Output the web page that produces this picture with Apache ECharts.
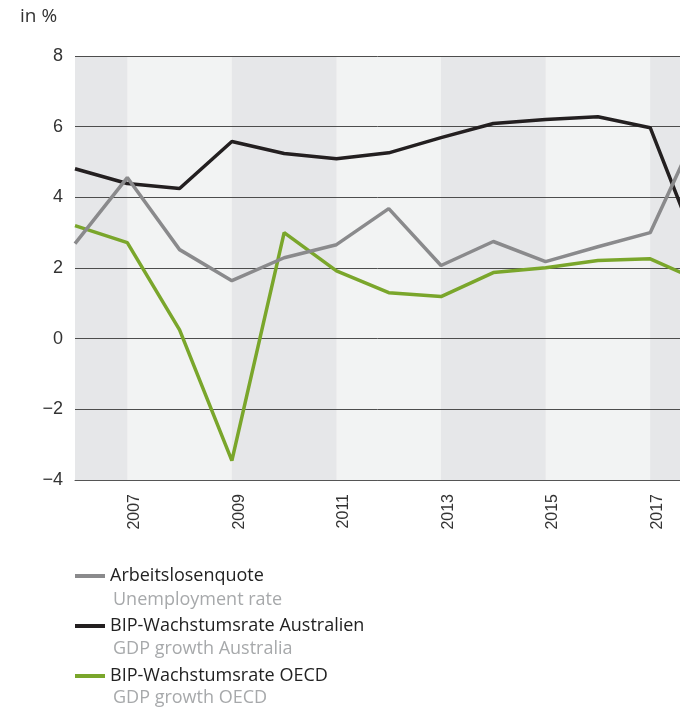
<!DOCTYPE html>
<html>
<head>
<meta charset="utf-8">
<script src="https://cdn.jsdelivr.net/npm/echarts@6/dist/echarts.min.js"></script>
<style>
  html, body { margin: 0; padding: 0; background: #fff; }
  #chart { width: 680px; height: 713px; }
</style>
</head>
<body>
<div id="chart"></div>
<script>
const years = [2006, 2007, 2008, 2009, 2010, 2011, 2012, 2013, 2014, 2015, 2016, 2017, 2018];
const unemployment = [2.69, 4.56, 2.52, 1.64, 2.29, 2.66, 3.68, 2.07, 2.75, 2.18, 2.6, 3.0, 6.2];
const gdpAustralia = [4.81, 4.39, 4.25, 5.58, 5.24, 5.09, 5.26, 5.69, 6.09, 6.2, 6.28, 5.97, 2.2];
const gdpOECD = [3.2, 2.72, 0.25, -3.45, 3.0, 1.92, 1.3, 1.19, 1.87, 2.01, 2.21, 2.26, 1.6];

const labelYears = [2007, 2009, 2011, 2013, 2015, 2017];

const namesDe = ["Arbeitslosenquote", "BIP-Wachstumsrate Australien", "BIP-Wachstumsrate OECD"];
const namesEn = ["Unemployment rate", "GDP growth Australia", "GDP growth OECD"];

// darker background bands (years)
const darkBands = [[2006, 2007], [2009, 2011], [2013, 2015], [2017, 2017.57]];

const xMin = 2006;
const xMax = 2017.57;
// year labels sit a bit right of their year line
const labelShift = 0.14;

const pairs = (vals) => years.map((y, i) => [y, vals[i]]);

var chart = echarts.init(document.getElementById("chart"));

var option = {
  animation: false,
  title: {
    text: "in %",
    left: 20,
    top: 7,
    padding: 0,
    textStyle: { fontFamily: "Open Sans", fontSize: 19, fontWeight: "normal", color: "#333" },
  },
  grid: {
    left: 75,
    right: 0,
    top: 56,
    bottom: 233,
    show: true,
    backgroundColor: "#f2f3f3",
    borderWidth: 0,
  },
  legend: {
    left: 75,
    top: 564,
    padding: 0,
    orient: "vertical",
    icon: "rect",
    itemWidth: 30,
    itemHeight: 4,
    itemGap: 26,
    itemTextGap: 11,
    selectedMode: false,
    data: namesDe,
    textStyle: { fontFamily: "Open Sans", fontSize: 18, color: "#222", lineHeight: 24 },
  },
  xAxis: [
    {
      type: "value",
      position: "bottom",
      min: xMin,
      max: xMax,
      splitLine: { show: false },
      axisTick: { show: false },
      axisLabel: { show: false },
      axisLine: { show: true, onZero: false, lineStyle: { color: "#555", width: 1 } },
      z: 6,
    },
    {
      type: "value",
      position: "bottom",
      min: xMin - labelShift,
      max: xMax - labelShift,
      splitLine: { show: false },
      axisTick: { show: false },
      axisLine: { show: false },
      axisLabel: {
        customValues: labelYears,
        rotate: 90,
        margin: 14,
        fontFamily: "Liberation Sans",
        fontSize: 16,
        color: "#333",
        formatter: (v) => String(v),
      },
    },
  ],
  yAxis: {
    type: "value",
    min: -4,
    max: 8,
    interval: 2,
    z: 2,
    axisLine: { show: false },
    axisTick: { show: false },
    splitLine: { lineStyle: { color: "#4d4d4d", width: 1 } },
    axisLabel: {
      margin: 12,
      fontFamily: "Liberation Sans",
      fontSize: 18,
      color: "#333",
      formatter: (v) => (v < 0 ? "\u2212" + Math.abs(v) : String(v)),
    },
  },
  graphic: namesEn.map((t, i) => ({
    type: "text",
    x: 113,
    y: 600 + i * 49,
    style: { text: t, fontFamily: "Open Sans", fontSize: 18, fill: "#a7a9ab", verticalAlign: "middle" },
  })),
  series: [
    {
      name: "bands",
      type: "line",
      data: [],
      z: 1,
      markArea: {
        silent: true,
        itemStyle: { color: "#e6e7e9" },
        data: darkBands.map((b) => [{ xAxis: b[0] }, { xAxis: b[1] }]),
      },
    },
    {
      name: namesDe[2],
      type: "line",
      data: pairs(gdpOECD),
      symbol: "none",
      z: 3,
      lineStyle: { color: "#7aa62b", width: 3.5 },
      itemStyle: { color: "#7aa62b" },
    },
    {
      name: namesDe[1],
      type: "line",
      data: pairs(gdpAustralia),
      symbol: "none",
      z: 4,
      lineStyle: { color: "#231f20", width: 3.5 },
      itemStyle: { color: "#231f20" },
    },
    {
      name: namesDe[0],
      type: "line",
      data: pairs(unemployment),
      symbol: "none",
      z: 5,
      lineStyle: { color: "#8a8a8c", width: 3.5 },
      itemStyle: { color: "#8a8a8c" },
    },
  ],
};

chart.setOption(option);
</script>
</body>
</html>
